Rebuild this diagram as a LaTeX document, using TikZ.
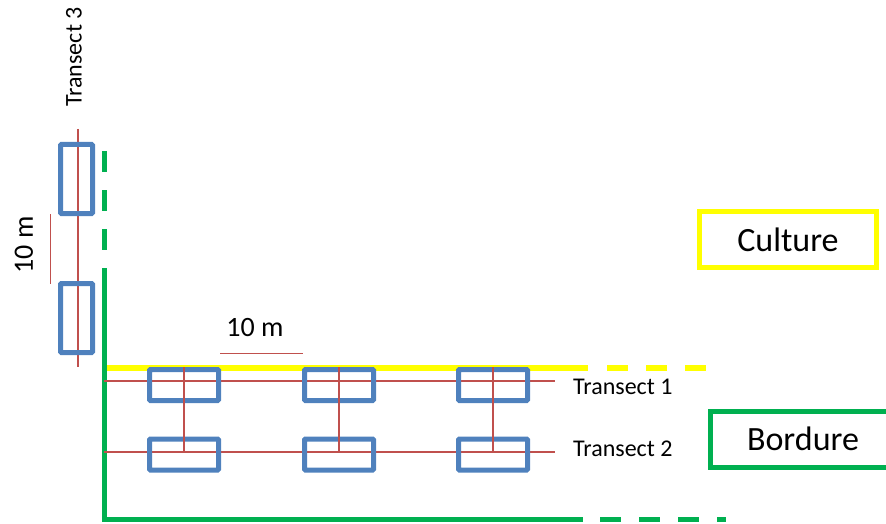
\documentclass[tikz,border=0pt]{standalone}
\usepackage{fontspec}
\setmainfont{Carlito}
\usepackage{tikz}
\usetikzlibrary{positioning}
\definecolor{plotblue}{HTML}{4F81BD}
\definecolor{transred}{HTML}{C0504D}
\definecolor{edgegreen}{HTML}{00B050}
\definecolor{cropyellow}{HTML}{FFFF00}
\tikzset{
  plotbox/.style={draw=plotblue,line width=5pt,rounded corners=1pt,inner sep=0pt},
  hplot/.style={plotbox,minimum width=69pt,minimum height=31pt},
  vplot/.style={plotbox,minimum width=32pt,minimum height=69pt},
  transect/.style={draw=transred,line width=1.5pt},
  legendbox/.style={line width=5pt,inner sep=0pt,minimum height=56pt,font=\fontsize{34}{40}\selectfont},
  lbl/.style={font=\fontsize{24}{28}\selectfont,inner sep=0pt},
  scalelbl/.style={font=\fontsize{28}{33}\selectfont,inner sep=0pt},
  edgeline/.style={draw=edgegreen,line width=5pt},
  cropline/.style={draw=cropyellow,line width=6pt},
  gaps/.style={dash pattern=on 21pt off 18pt}
}

\begin{document}
\begin{tikzpicture}[x=1pt,y=-1pt]
  \useasboundingbox (0,0) rectangle (886,524);

  % field edges
  \draw[cropline] (104,368) -- (588,368);
  \draw[cropline,gaps] (607,368) -- (723,368);
  \draw[edgeline,gaps] (104,151) -- (104,252);
  \draw[edgeline] (104,268) -- (104,519) -- (583,519);
  \draw[edgeline,gaps] (600,519) -- (726,519);

  % transects
  \coordinate (t1s) at (104,381);
  \coordinate (t1e) at (555,381);
  \coordinate (t2s) at (104,452);
  \coordinate (t2e) at (555,452);
  \coordinate (t3s) at (78,129);
  \coordinate (t3e) at (78,367);
  \draw[transect] (t1s) -- (t1e);
  \draw[transect] (t2s) -- (t2e);
  \draw[transect] (t3s) -- (t3e);

  % plots
  \node[hplot] (q11) at (184,385) {};
  \node[hplot] (q12) at (339,385) {};
  \node[hplot] (q13) at (493,385) {};
  \node[hplot] (q21) at (184,454.5) {};
  \node[hplot] (q22) at (339,454.5) {};
  \node[hplot] (q23) at (493,454.5) {};
  \node[vplot] (v1) at (76.5,179) {};
  \node[vplot] (v2) at (76.5,318) {};
  \foreach \c in {q11,q12,q13}
    \draw[transect] (\c.north) -- (\c.center |- t2s);

  % labels
  \node[lbl,anchor=west,xshift=18pt,yshift=-5.5pt] (l1) at (t1e) {Transect 1};
  \node[lbl,anchor=west,xshift=18pt,yshift=3pt] (l2) at (t2e) {Transect 2};
  \node[lbl,rotate=90] (l3) at (74,57) {Transect 3};

  % scale
  \coordinate (h1) at (220,353);
  \coordinate (h2) at (303,353);
  \draw[transect,line width=1pt] (h1) -- (h2);
  \node[scalelbl] (hm) at (255,328) {10 m};
  \coordinate (s1) at (50,214);
  \coordinate (s2) at (50,284);
  \draw[transect,line width=1pt] (s1) -- (s2);
  \node[scalelbl,rotate=90] (sm) at (24,245) {10 m};

  % legend
  \node[legendbox,draw=cropyellow,minimum width=177pt] (culture) at (788,239.5) {Culture};
  \node[legendbox,draw=edgegreen,minimum width=185pt] (bordure) at (803,439) {Bordure};
\end{tikzpicture}
\end{document}
